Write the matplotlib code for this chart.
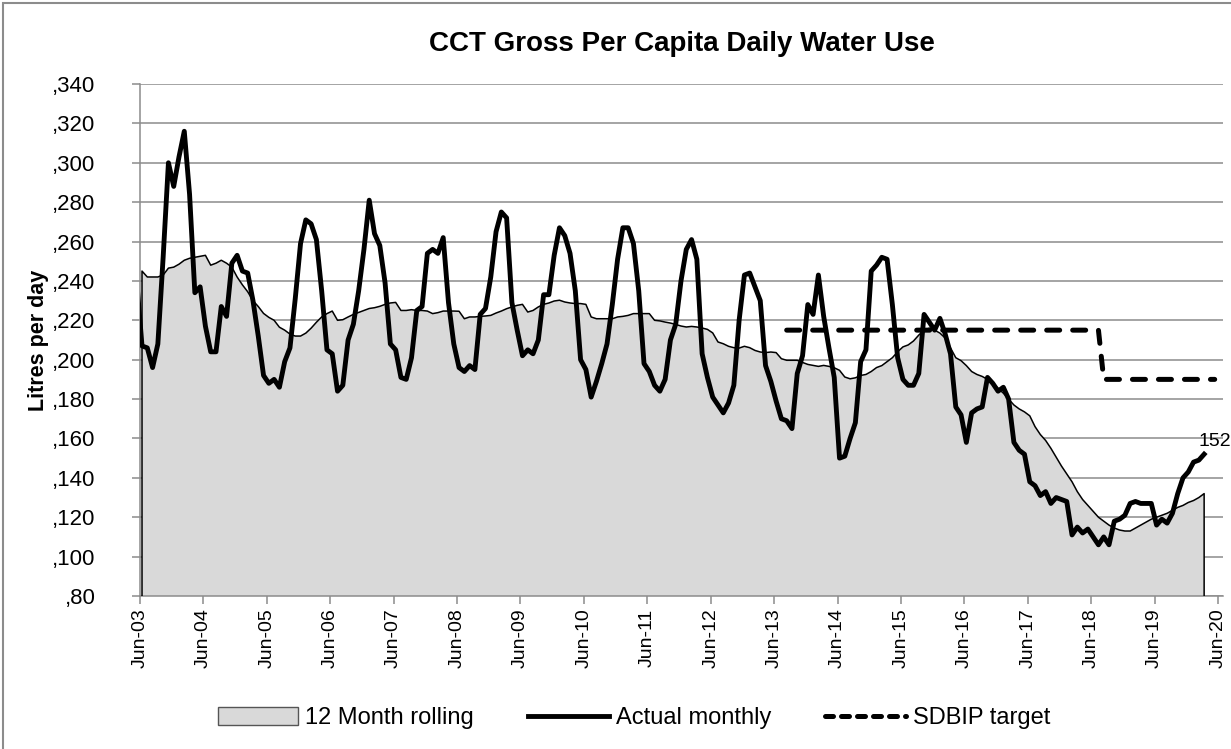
import numpy as np
import matplotlib
matplotlib.use("Agg")
import matplotlib.pyplot as plt
from matplotlib.patches import Rectangle, Patch
from matplotlib.lines import Line2D

# monthly data, first value of actual is May-03 (clipped by the axis)
actual = [240,
    207, 206, 196, 208, 252, 300, 288, 303, 316, 284, 234, 237, 217, 204, 204, 227, 222, 249, 253, 245,
    244, 230, 212, 192, 188, 190, 186, 199, 206, 231, 259, 271, 269, 261, 235, 205, 203, 184, 187, 210,
    218, 235, 256, 281, 264, 258, 239, 208, 205, 191, 190, 201, 225, 227, 254, 256, 254, 262, 229, 208,
    196, 194, 197, 195, 223, 226, 242, 265, 275, 272, 229, 215, 202, 205, 203, 210, 233, 233, 253, 267,
    263, 254, 235, 200, 195, 181, 189, 198, 208, 228, 251, 267, 267, 259, 235, 198, 194, 187, 184, 190,
    210, 218, 240, 256, 261, 251, 203, 191, 181, 177, 173, 178, 187, 220, 243, 244, 237, 230, 197, 189,
    179, 170, 169, 165, 193, 202, 228, 223, 243, 222, 206, 191, 150, 151, 160, 168, 199, 205, 245, 248,
    252, 251, 228, 201, 190, 187, 187, 193, 223, 219, 215, 221, 213, 203, 176, 172, 158, 173, 175, 176,
    191, 188, 184, 186, 180, 158, 154, 152, 138, 136, 131, 133, 127, 130, 129, 128, 111, 115, 112, 114,
    110, 106, 110, 106, 118, 119, 121, 127, 128, 127, 127, 127, 116, 119, 117, 122, 132, 140, 143, 148,
    149, 152]

rolling = [
    245, 242, 242, 242, 243, 246.5, 247, 248.5, 250.5, 251.5, 252, 252.5, 253, 248, 249, 250.5, 249, 247, 242, 238,
    234.5, 230, 227, 223.5, 221.5, 220, 216.5, 215, 213, 212, 212, 213.5, 216, 219, 221.7, 223.4, 224.7, 220, 220.3, 221.7,
    223, 224, 225, 226, 226.4, 227.1, 228.1, 228.8, 229.1, 225, 225, 225.4, 225, 225, 224.7, 223.4, 223.9, 224.7, 224.7, 224.7,
    224.6, 220.8, 221.7, 221.7, 222, 222.2, 222.5, 223.7, 224.7, 225.9, 226.8, 227.6, 228.1, 224.2, 225, 226.8, 228.1, 228.8, 229.8, 230.2,
    229.3, 228.8, 228.5, 228.5, 228.1, 221.7, 220.8, 220.8, 220.8, 220.8, 221.7, 222, 222.5, 223.4, 223.4, 223.4, 223.4, 220, 219.7, 219.1,
    218.6, 217.9, 217.1, 216.6, 216.9, 216.6, 216.1, 215.4, 213.6, 209, 208.1, 206.8, 206.1, 205.9, 206.8, 206.1, 204.7, 203.9, 203.6, 203.9,
    203.6, 200.5, 199.7, 199.7, 199.7, 198.6, 197.6, 197.1, 196.6, 197.1, 196.6, 195.9, 194.6, 191.2, 190.3, 190.8, 192, 192.5, 194, 196,
    197, 199, 201, 204, 206.5, 207.5, 209.5, 212.5, 215, 216, 215, 213.5, 211, 206, 201, 199.5, 197, 194, 192.5, 191.5,
    190, 188, 185.5, 183, 180, 177, 175, 173.5, 171.5, 166, 162, 159, 155, 150.5, 146, 142, 138, 133, 129, 126,
    123, 120, 118, 116, 114.5, 113.5, 113, 113, 114.5, 116, 117.5, 119, 120, 121, 122, 123.5, 125, 126, 127.5, 128.5,
    130, 132]

# SDBIP target, from month 122 onwards
target_start = 122
target = [215] * 60 + [190] * 22

tick_labels = ['Jun-%02d' % y for y in range(3, 21)]

plt.rcParams['font.family'] = ['Liberation Sans', 'DejaVu Sans']

off = 0.38  # first month sits a little right of the Jun-03 tick
x_act = np.arange(len(actual)) - 1 + off
x_roll = np.arange(len(rolling)) + off
x_tgt = np.arange(len(target)) + target_start + off

fig = plt.figure(figsize=(12.31, 7.49), dpi=100)
fig.patches.append(Rectangle((3 / 1231, -0.1), 1.2, 1.1 - 3 / 749, transform=fig.transFigure,
                             fill=False, edgecolor='#8c8c8c', lw=1.5))
ax = fig.add_axes([140 / 1231, 1 - 596 / 749, (1223 - 140) / 1231, (596 - 84) / 749])

ax.fill_between(x_roll, 80, rolling, facecolor='#d9d9d9', edgecolor='none', zorder=2)
ax.plot(np.r_[x_roll[0], x_roll, x_roll[-1]], np.r_[80, rolling, 80], color='black', lw=1.1, zorder=3)
ax.plot(x_act, actual, color='black', lw=3.5, solid_joinstyle='round', zorder=4)
ax.plot(x_tgt, target, color='black', lw=3.6, dashes=(2.6, 2.6), dash_capstyle='round', zorder=4)

ax.annotate('152', (x_act[-1], actual[-1]), xytext=(8, 3), textcoords='offset points',
            ha='center', va='bottom', fontsize=14, annotation_clip=False)

ax.set_xlim(0, 204.95)
ax.set_ylim(80, 340)
ax.set_yticks(np.arange(80, 341, 20))
ax.set_yticklabels([',%d' % v for v in range(80, 341, 20)], fontsize=16)
ax.set_xticks(np.arange(18) * 12)
ax.set_xticklabels(tick_labels, rotation=90, fontsize=14)
ax.grid(axis='y', color='#8c8c8c', lw=1.1, zorder=0)
ax.set_axisbelow(True)
for s in ['top', 'right']:
    ax.spines[s].set_visible(False)
for s in ['left', 'bottom']:
    ax.spines[s].set_color('#8c8c8c')
    ax.spines[s].set_linewidth(1.1)
ax.tick_params(axis='both', color='#8c8c8c', length=6, width=1.1)
ax.tick_params(axis='y', pad=26)
ax.tick_params(axis='x', pad=3)

ax.set_ylabel('Litres per day', fontsize=15.5, fontweight='bold', labelpad=2)
ax.set_title('CCT Gross Per Capita Daily Water Use', fontsize=20, fontweight='bold', pad=24)

handles = [Patch(facecolor='#d9d9d9', edgecolor='#555555', lw=1),
           Line2D([], [], color='black', lw=3.5),
           Line2D([], [], color='black', lw=3.6, dashes=(1.6, 1.6), dash_capstyle='round')]
fig.legend(handles, ['12 Month rolling', 'Actual monthly', 'SDBIP target'], loc='center',
           bbox_to_anchor=(0.515, 1 - 718 / 749), ncol=3, frameon=False, handlelength=3.4,
           handleheight=0.8, columnspacing=2.3, handletextpad=0.3, prop={'size': 17})

fig.savefig('out.png', dpi=100)
